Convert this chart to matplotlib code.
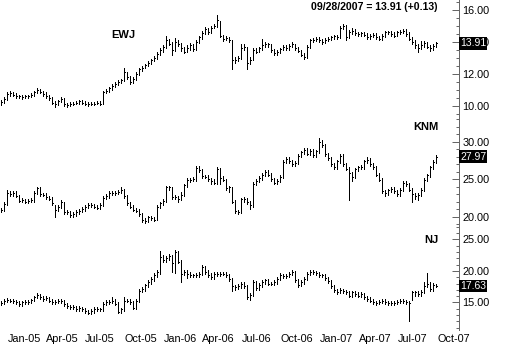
import matplotlib
matplotlib.use("Agg")
import matplotlib.pyplot as plt
import matplotlib.dates as mdates
from matplotlib.ticker import MultipleLocator, FormatStrFormatter
import pandas as pd

# ==========================================
# DATA (weekly bars, last one 09/28/2007)
# ==========================================
LAST_DATE = "2007-09-28"

EWJ_CLOSE = [
    10.25, 10.45, 10.75, 10.8, 10.7, 10.6, 10.6, 10.55, 10.6, 10.6, 10.7, 10.85, 11.0, 10.9, 10.75, 10.6,
    10.5, 10.2, 10.1, 10.3, 10.45, 10.1, 10.05, 10.15, 10.15, 10.2, 10.3, 10.2, 10.15, 10.1, 10.15, 10.15,
    10.2, 10.15, 10.85, 10.95, 11.1, 11.25, 11.4, 11.5, 11.6, 12.1, 11.8, 11.5, 11.7, 12.0, 12.3, 12.4,
    12.55, 12.7, 12.85, 13.0, 13.25, 13.5, 13.7, 14.1, 13.9, 13.5, 14.0, 13.85, 13.6, 13.4, 13.6, 13.8,
    13.55, 14.0, 14.3, 14.55, 14.8, 14.6, 14.9, 15.0, 15.4, 14.4, 14.2, 14.25, 14.1, 12.9, 12.9, 13.0,
    13.6, 13.7, 12.7, 12.9, 13.5, 13.4, 13.6, 13.8, 13.85, 13.85, 13.5, 13.3, 13.4, 13.55, 13.7, 13.6,
    13.75, 13.85, 13.6, 13.45, 13.2, 13.05, 13.7, 14.1, 14.15, 14.2, 14.1, 14.0, 14.15, 14.2, 14.3, 14.35,
    14.3, 14.9, 15.0, 14.3, 14.6, 14.7, 14.55, 14.5, 14.55, 14.45, 14.3, 14.4, 14.45, 14.3, 14.2, 14.4,
    14.6, 14.6, 14.5, 14.4, 14.6, 14.65, 14.7, 14.5, 14.2, 14.0, 13.8, 13.65, 13.8, 13.95, 13.7, 13.6,
    13.78, 13.91,
]
EWJ_HIGH = [
    10.4, 10.55, 10.85, 10.95, 10.85, 10.8, 10.7, 10.7, 10.7, 10.7, 10.8, 10.95, 11.1, 11.05, 10.95, 10.85,
    10.7, 10.55, 10.3, 10.4, 10.55, 10.5, 10.2, 10.25, 10.25, 10.3, 10.4, 10.35, 10.3, 10.25, 10.25, 10.25,
    10.3, 10.3, 10.95, 11.05, 11.2, 11.35, 11.5, 11.6, 11.7, 12.4, 12.15, 11.9, 11.8, 12.1, 12.4, 12.5,
    12.65, 12.8, 12.95, 13.1, 13.35, 13.6, 13.8, 14.4, 14.2, 14.0, 14.25, 14.1, 13.95, 13.7, 13.8, 13.95,
    13.9, 14.1, 14.4, 14.7, 14.95, 14.9, 15.0, 15.15, 15.7, 15.3, 14.45, 14.35, 14.3, 14.1, 13.05, 13.15,
    13.9, 13.85, 13.7, 13.05, 13.6, 13.6, 13.7, 14.2, 14.0, 13.95, 13.9, 13.55, 13.5, 13.65, 13.8, 13.8,
    13.85, 14.0, 13.9, 13.7, 13.5, 13.3, 13.8, 14.2, 14.25, 14.3, 14.3, 14.2, 14.25, 14.3, 14.4, 14.45,
    14.45, 15.0, 15.15, 15.05, 14.75, 14.85, 14.8, 14.65, 14.65, 14.65, 14.55, 14.5, 14.55, 14.55, 14.4, 14.5,
    14.7, 14.7, 14.7, 14.6, 14.7, 14.75, 14.8, 14.8, 14.6, 14.3, 14.1, 13.9, 14.05, 14.05, 14.0, 13.8,
    13.85, 14.0,
]
EWJ_LOW = [
    10.05, 10.2, 10.4, 10.65, 10.6, 10.5, 10.5, 10.45, 10.5, 10.5, 10.55, 10.65, 10.8, 10.8, 10.65, 10.5,
    10.4, 10.1, 9.95, 10.05, 10.25, 10.0, 9.95, 10.0, 10.05, 10.1, 10.15, 10.1, 10.05, 10.0, 10.05, 10.05,
    10.1, 10.05, 10.1, 10.8, 10.9, 11.0, 11.2, 11.3, 11.45, 11.55, 11.7, 11.4, 11.45, 11.65, 11.95, 12.2,
    12.35, 12.5, 12.6, 12.8, 12.95, 13.2, 13.4, 13.65, 13.8, 13.2, 13.45, 13.75, 13.45, 13.3, 13.35, 13.5,
    13.45, 13.5, 13.95, 14.2, 14.5, 14.5, 14.55, 14.85, 14.95, 14.3, 14.05, 14.1, 14.0, 12.3, 12.7, 12.8,
    12.95, 13.5, 12.3, 12.6, 12.85, 13.3, 13.35, 13.5, 13.7, 13.7, 13.4, 13.2, 13.2, 13.3, 13.5, 13.5,
    13.5, 13.7, 13.5, 13.35, 13.1, 12.95, 13.0, 13.65, 14.0, 14.05, 14.0, 13.9, 13.95, 14.05, 14.1, 14.2,
    14.2, 14.25, 14.8, 14.1, 14.25, 14.5, 14.45, 14.4, 14.4, 14.35, 14.2, 14.2, 14.3, 14.2, 14.1, 14.15,
    14.3, 14.5, 14.4, 14.3, 14.35, 14.5, 14.55, 14.4, 14.1, 13.9, 13.6, 13.4, 13.55, 13.7, 13.6, 13.45,
    13.5, 13.7,
]

KNM_CLOSE = [
    20.9, 21.7, 23.2, 23.0, 23.2, 22.8, 22.1, 22.2, 22.0, 22.1, 22.2, 23.2, 23.8, 23.0, 22.9, 22.6,
    22.4, 21.8, 20.9, 21.3, 21.9, 20.6, 20.6, 20.2, 20.3, 20.6, 20.8, 21.0, 21.3, 21.6, 21.5, 21.3,
    21.2, 21.6, 22.5, 22.7, 23.1, 23.1, 23.2, 23.3, 23.5, 22.7, 21.8, 21.3, 20.9, 20.8, 20.3, 19.5,
    19.4, 19.9, 19.8, 19.6, 21.3, 21.8, 22.1, 23.9, 23.9, 22.6, 22.6, 22.4, 22.9, 24.2, 24.9, 24.9,
    25.0, 26.5, 26.2, 25.4, 25.3, 25.0, 24.8, 24.5, 26.4, 25.2, 24.9, 23.8, 23.9, 22.0, 20.7, 20.6,
    22.3, 22.4, 21.9, 21.5, 24.4, 24.8, 25.2, 25.6, 26.0, 25.6, 25.0, 24.5, 24.8, 25.3, 27.3, 27.7,
    27.4, 27.0, 27.2, 28.1, 28.6, 28.9, 28.4, 28.8, 28.2, 28.7, 30.0, 29.5, 28.3, 27.8, 27.0, 26.6,
    27.4, 28.1, 27.0, 26.4, 25.8, 25.3, 26.3, 26.6, 26.6, 27.4, 27.6, 27.0, 26.6, 25.6, 24.9, 23.4,
    23.1, 23.5, 23.7, 23.4, 23.0, 23.6, 24.5, 24.3, 23.6, 23.0, 22.8, 22.9, 23.6, 24.9, 25.5, 26.6,
    27.3, 27.97,
]
KNM_HIGH = [
    21.2, 21.95, 23.5, 23.45, 23.45, 23.4, 22.9, 22.45, 22.4, 22.35, 22.45, 23.4, 24.0, 23.9, 23.2, 23.1,
    22.8, 22.6, 21.5, 21.6, 22.2, 22.0, 20.9, 20.8, 20.55, 20.85, 21.05, 21.25, 21.6, 21.85, 21.8, 21.7,
    21.5, 21.85, 22.75, 22.95, 23.35, 23.35, 23.45, 23.55, 23.9, 23.7, 22.9, 22.0, 21.5, 21.1, 21.0, 20.5,
    19.8, 20.1, 20.1, 20.0, 21.5, 22.0, 22.35, 24.1, 24.1, 24.0, 22.85, 22.8, 23.3, 24.4, 25.1, 25.2,
    25.3, 26.8, 26.7, 26.4, 25.6, 25.5, 25.2, 25.0, 26.6, 26.5, 25.4, 25.0, 24.1, 24.0, 22.2, 20.9,
    22.5, 22.6, 22.5, 22.1, 24.6, 25.0, 25.4, 25.8, 26.2, 26.2, 25.8, 25.2, 25.0, 25.5, 27.5, 27.9,
    27.9, 27.6, 27.4, 28.3, 28.8, 29.1, 29.1, 29.0, 29.0, 28.9, 30.5, 30.2, 29.7, 28.5, 28.0, 27.2,
    27.6, 28.3, 28.3, 27.2, 26.6, 26.0, 26.5, 26.8, 26.9, 27.6, 27.9, 27.8, 27.2, 26.8, 25.8, 25.1,
    23.6, 23.7, 23.9, 23.9, 23.6, 23.8, 24.7, 24.7, 24.5, 23.8, 23.2, 23.1, 23.8, 25.1, 25.7, 26.8,
    27.5, 28.2,
]
KNM_LOW = [
    20.6, 20.7, 21.5, 22.8, 22.8, 22.6, 21.9, 21.9, 21.8, 21.8, 21.9, 22.0, 23.0, 22.8, 22.7, 22.4,
    22.2, 21.6, 20.0, 20.7, 21.1, 20.4, 20.3, 20.0, 20.0, 20.1, 20.4, 20.6, 20.8, 21.1, 21.3, 21.1,
    21.0, 21.0, 21.4, 22.3, 22.5, 22.9, 22.9, 23.0, 23.1, 22.5, 21.6, 21.1, 20.7, 20.6, 20.1, 19.3,
    19.1, 19.3, 19.6, 19.4, 19.5, 21.1, 21.6, 21.9, 23.6, 22.4, 22.4, 21.9, 22.2, 22.7, 24.0, 24.6,
    24.7, 24.8, 26.0, 25.2, 25.1, 24.8, 24.3, 24.3, 24.4, 24.4, 24.7, 23.6, 23.3, 21.8, 20.5, 20.4,
    20.5, 22.0, 21.7, 21.0, 21.3, 24.2, 24.6, 24.9, 25.4, 25.4, 24.8, 24.3, 24.3, 24.6, 25.1, 27.1,
    27.2, 26.8, 26.8, 27.0, 27.9, 28.4, 28.2, 28.2, 28.0, 28.0, 28.5, 29.3, 28.1, 27.6, 26.8, 26.4,
    26.4, 27.2, 26.8, 26.2, 22.2, 24.8, 25.1, 26.1, 26.4, 26.4, 27.2, 26.8, 26.4, 25.4, 24.7, 23.2,
    22.8, 22.9, 23.3, 23.2, 22.7, 22.8, 23.4, 24.1, 23.4, 21.9, 22.3, 22.2, 22.7, 23.4, 24.7, 25.3,
    26.4, 27.1,
]

NJ_CLOSE = [
    14.9, 15.3, 15.4, 15.3, 15.2, 15.0, 14.7, 15.0, 15.1, 15.1, 15.4, 15.9, 16.2, 15.8, 15.6, 15.7,
    15.3, 15.0, 15.1, 15.3, 15.2, 14.7, 14.4, 14.3, 14.3, 13.9, 14.1, 13.9, 13.6, 13.4, 13.6, 14.0,
    14.0, 13.9, 14.8, 15.1, 15.1, 15.3, 14.8, 13.5, 13.9, 15.3, 15.3, 15.1, 14.1, 15.2, 16.9, 17.1,
    17.7, 18.2, 18.7, 19.4, 19.8, 22.3, 21.8, 22.1, 22.4, 21.2, 23.0, 21.5, 19.6, 19.9, 19.5, 19.3,
    19.3, 19.4, 19.5, 20.6, 19.9, 19.4, 19.0, 19.6, 19.5, 19.6, 19.6, 19.4, 18.7, 17.6, 17.5, 17.6,
    18.0, 17.6, 15.8, 16.2, 18.2, 17.3, 17.8, 18.3, 18.5, 18.0, 18.0, 18.3, 18.8, 19.4, 19.2, 19.2,
    19.5, 19.8, 18.6, 17.8, 18.3, 18.8, 19.6, 19.8, 19.8, 19.7, 19.4, 19.3, 18.9, 18.4, 17.6, 17.0,
    16.7, 17.0, 16.8, 16.6, 16.1, 16.6, 16.4, 16.1, 16.3, 15.9, 15.6, 15.3, 15.0, 14.9, 15.1, 15.3,
    15.1, 14.9, 14.9, 14.9, 15.1, 15.2, 15.2, 15.1, 14.9, 16.6, 16.6, 16.4, 16.7, 17.6, 18.0, 17.2,
    17.8, 17.63,
]
NJ_HIGH = [
    15.2, 15.6, 15.7, 15.6, 15.5, 15.4, 15.2, 15.3, 15.4, 15.4, 15.6, 16.1, 16.5, 16.4, 16.0, 16.0,
    15.9, 15.5, 15.4, 15.6, 15.5, 15.4, 14.9, 14.6, 14.6, 14.5, 14.4, 14.3, 14.1, 13.8, 13.9, 14.3,
    14.3, 14.2, 15.1, 15.4, 15.4, 15.8, 15.5, 15.0, 14.2, 15.8, 15.6, 15.5, 15.3, 15.5, 17.2, 17.4,
    18.0, 18.5, 19.0, 19.7, 20.1, 23.1, 22.5, 22.4, 22.7, 22.6, 23.4, 23.2, 21.7, 20.2, 20.2, 19.8,
    19.6, 19.7, 19.8, 20.9, 20.8, 20.1, 19.7, 19.9, 19.9, 19.9, 19.9, 19.8, 19.6, 18.9, 17.8, 17.9,
    18.3, 18.2, 17.8, 16.5, 18.5, 18.4, 18.1, 18.6, 18.8, 18.7, 18.3, 18.6, 19.1, 19.7, 19.6, 19.5,
    19.8, 20.2, 20.0, 18.8, 18.6, 19.1, 19.9, 20.2, 20.1, 20.0, 19.9, 19.6, 19.5, 19.1, 18.6, 17.8,
    17.2, 17.3, 17.2, 17.0, 16.8, 16.9, 16.8, 16.6, 16.6, 16.5, 16.1, 15.8, 15.5, 15.2, 15.4, 15.6,
    15.5, 15.3, 15.2, 15.2, 15.4, 15.5, 15.5, 15.4, 15.3, 16.9, 16.9, 16.9, 17.0, 18.2, 19.7, 18.3,
    18.1, 18.0,
]
NJ_LOW = [
    14.6, 14.7, 15.1, 15.0, 14.9, 14.8, 14.4, 14.5, 14.8, 14.8, 14.9, 15.2, 15.7, 15.5, 15.3, 15.4,
    15.0, 14.7, 14.8, 14.9, 14.9, 14.4, 14.1, 14.0, 14.0, 13.6, 13.6, 13.6, 13.3, 13.1, 13.2, 13.4,
    13.7, 13.6, 13.7, 14.6, 14.8, 14.9, 14.6, 13.3, 13.3, 13.7, 15.0, 14.8, 13.9, 13.9, 15.0, 16.6,
    16.9, 17.4, 17.9, 18.4, 19.1, 19.6, 21.5, 21.5, 21.8, 19.8, 19.7, 21.2, 18.3, 19.3, 18.9, 19.0,
    19.0, 19.0, 19.1, 19.3, 19.6, 19.1, 18.7, 18.8, 19.2, 19.2, 19.3, 19.1, 18.4, 16.9, 17.0, 17.2,
    17.3, 17.3, 15.5, 15.4, 16.0, 17.0, 17.0, 17.5, 18.0, 17.7, 17.7, 17.8, 18.0, 18.6, 18.9, 18.9,
    19.0, 19.3, 18.3, 17.5, 17.6, 18.0, 18.6, 19.4, 19.5, 19.4, 19.1, 19.0, 18.6, 18.1, 17.3, 16.7,
    16.4, 16.5, 16.5, 16.3, 15.8, 15.9, 16.1, 15.8, 15.9, 15.6, 15.3, 15.0, 14.7, 14.6, 14.7, 14.9,
    14.8, 14.6, 14.6, 14.6, 14.7, 14.9, 14.9, 14.8, 12.0, 15.4, 16.1, 16.1, 16.1, 16.5, 17.4, 16.9,
    16.9, 17.4,
]

QUARTER_LABELS = ["Jan-05", "Apr-05", "Jul-05", "Oct-05", "Jan-06", "Apr-06",
                  "Jul-06", "Oct-06", "Jan-07", "Apr-07", "Jul-07", "Oct-07"]
HEADER = "09/28/2007 = 13.91 (+0.13)"

# ==========================================
# LAYOUT (pixels of a 506x345 picture)
# ==========================================
W, H = 506, 345
AXIS_X = 459          # right price axis
PX_PER_BAR = 3
LW = 0.72             # one pixel

# name, data, (ref price, ref pixel row, px per unit), pixel rows, ticks, label spot
PANELS = [
    ("EWJ", EWJ_CLOSE, EWJ_HIGH, EWJ_LOW, (12.0, 74.0, 16.0), (0, 117), (2, 0.5), (123, 35, "center")),
    ("KNM", KNM_CLOSE, KNM_HIGH, KNM_LOW, (25.0, 179.0, 7.5), (117, 225), (5, 1), (439, 127, "right")),
    ("NJ", NJ_CLOSE, NJ_HIGH, NJ_LOW, (20.0, 271.0, 6.3), (225, 330), (5, 1), (439, 240, "right")),
]

plt.rcParams["font.family"] = ["Liberation Sans", "DejaVu Sans"]


def main() -> None:
    dates = pd.date_range(end=LAST_DATE, periods=len(EWJ_CLOSE), freq="7D")
    x = mdates.date2num(dates)
    day_per_px = 7.0 / PX_PER_BAR
    x_left = x[0] - 1 * day_per_px
    x_right = x_left + AXIS_X * day_per_px

    fig = plt.figure(figsize=(W / 100, H / 100), dpi=100)

    for i, (name, close, high, low, scale, rows, ticks, lab) in enumerate(PANELS):
        top, bottom = rows
        ax = fig.add_axes([0, 1 - bottom / H, AXIS_X / W, (bottom - top) / H])
        ax.set_facecolor("none")
        ref_p, ref_y, ppu = scale
        ax.set_ylim(ref_p - (bottom - ref_y) / ppu, ref_p + (ref_y - top) / ppu)
        ax.set_xlim(x_left, x_right)

        ax.vlines(x, low, high, colors="black", lw=LW, antialiased=False)
        ax.hlines(close, x, x + 1.2 * day_per_px, colors="black", lw=LW, antialiased=False)

        for side in ("left", "top", "bottom"):
            ax.spines[side].set_visible(False)
        ax.spines["right"].set_linewidth(LW)
        ax.spines["right"].set_color("#666666")

        ax.yaxis.tick_right()
        ax.yaxis.set_major_locator(MultipleLocator(ticks[0]))
        ax.yaxis.set_minor_locator(MultipleLocator(ticks[1]))
        ax.yaxis.set_major_formatter(FormatStrFormatter("%.2f"))
        ax.tick_params(axis="y", which="major", direction="in", length=5, width=LW,
                       color="#666666", labelsize=7.8, pad=2.5)
        ax.tick_params(axis="y", which="minor", direction="in", length=2.5, width=LW,
                       color="#666666")

        # last value box
        ax.text(1.0 + 1 / AXIS_X, close[-1], f"{close[-1]:.2f}", transform=ax.get_yaxis_transform(),
                ha="left", va="center", fontsize=7.5, color="white", clip_on=False, zorder=10,
                bbox=dict(boxstyle="square,pad=0.12", fc="black", ec="none"))

        fig.text(lab[0] / W, 1 - lab[1] / H, name, ha=lab[2], va="center",
                 fontsize=8, fontweight="bold")

        if i < len(PANELS) - 1:
            ax.set_xticks([])
        else:
            qs = pd.date_range("2005-01-01", periods=len(QUARTER_LABELS), freq="QS")
            ax.set_xticks(mdates.date2num(qs))
            ax.set_xticklabels(QUARTER_LABELS, ha="left")
            ax.tick_params(axis="x", length=0, labelsize=7.8, pad=3)

    fig.text(438 / W, 1 - 7 / H, HEADER, ha="right", va="center", fontsize=7.6, fontweight="bold")

    fig.savefig("out.png", dpi=100, facecolor="white")
    plt.close(fig)


if __name__ == "__main__":
    main()
